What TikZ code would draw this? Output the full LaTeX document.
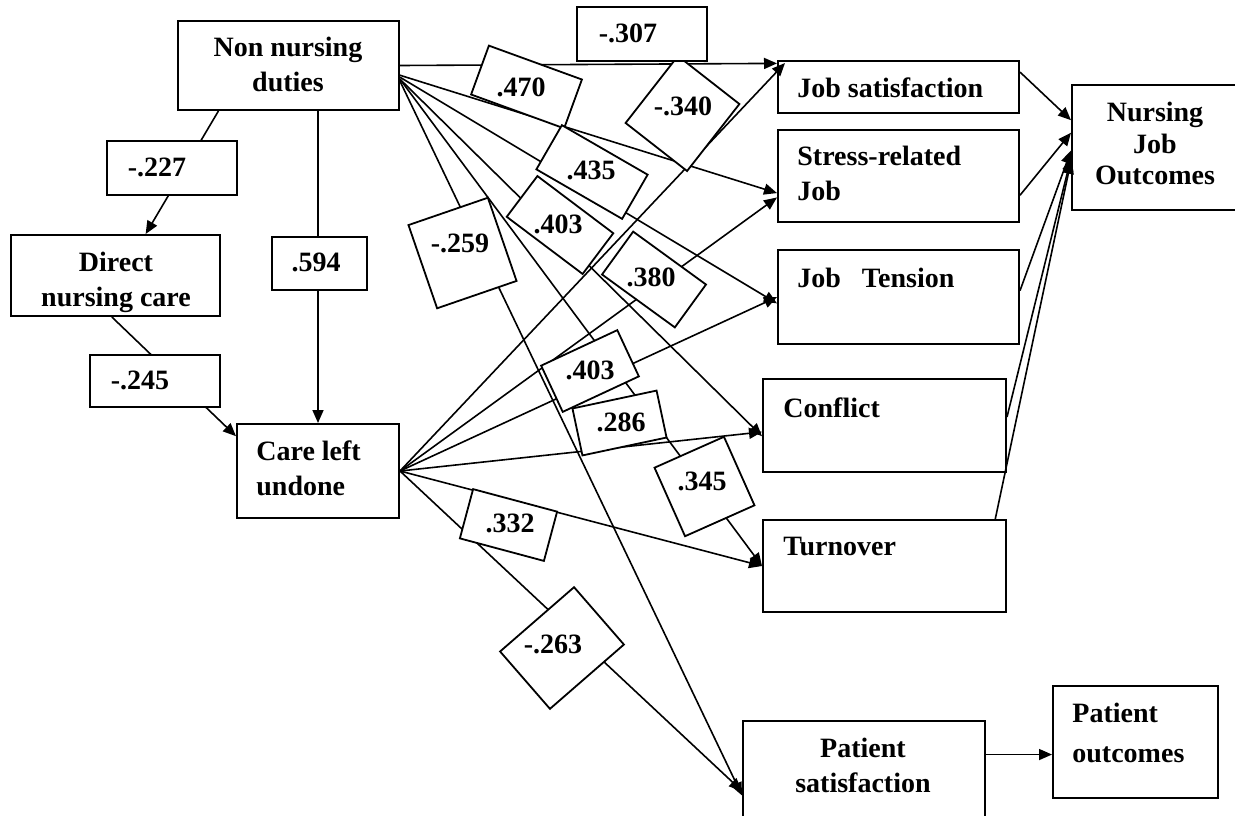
\documentclass[tikz,border=0pt]{standalone}
\usepackage{fontspec}
\setmainfont{Liberation Serif}
\usetikzlibrary{arrows.meta,fit}
\begin{document}
\begin{tikzpicture}[x=0.5pt,y=-0.5pt,
  box/.style={draw, line width=1pt, inner sep=0pt},
  txt/.style={font=\fontsize{14}{17.5}\selectfont\bfseries, inner sep=0pt},
  link/.style={line width=0.8pt},
  arr/.style={link, -{Triangle[length=6.5pt,width=5.5pt]}},
  lblbox/.style={draw, fill=white, line width=0.9pt, inner sep=0pt},
  sz/.style 2 args={minimum width=#1*0.5pt, minimum height=#2*0.5pt},
  num/.style={txt}
]
\path[fill=white, use as bounding box] (0,0) rectangle (1235,815);

% variable boxes
\node[box, fit={(178,21) (399,110)}] (nn) {};
\node[box, fit={(11,235) (220,316)}] (dnc) {};
\node[box, fit={(237,424) (399,518)}] (clu) {};
\node[box, fit={(778,61) (1019,113)}] (js) {};
\node[box, fit={(778,130) (1019,222)}] (srj) {};
\node[box, fit={(778,250) (1019,344)}] (jt) {};
\node[box, fit={(763,379) (1006,472)}] (cf) {};
\node[box, fit={(763,520) (1006,612)}] (tov) {};
\node[box, fit={(743,721) (985,818)}] (ps) {};
\node[box, fit={(1053,686) (1218,798)}] (po) {};
\node[box, fit={(1072,85) (1238,210)}] (njo) {};

% box texts
\node[txt, anchor=north, align=center] (nnt) at (288,37) {Non nursing\\duties};
\node[txt, anchor=north, align=center] (dnct) at (116,252) {Direct\\nursing care};
\node[txt, anchor=north west, align=left] (clut) at (256,440) {Care left\\undone};
\node[txt, anchor=north west] (jst) at (797,77) {Job satisfaction};
\node[txt, anchor=north west, align=left] (srjt) at (797,146) {Stress-related\\Job};
\node[txt, anchor=north west] (jtt) at (797,268) {Job\ \ \ Tension};
\node[txt, anchor=north west] (cft) at (783,397) {Conflict};
\node[txt, anchor=north west] (tovt) at (783,537) {Turnover};
\node[txt, anchor=north, align=center] (pst) at (863,738) {Patient\\satisfaction};
\node[txt, font=\fontsize{14}{20}\selectfont\bfseries, anchor=north west, align=left] (pot) at (1072,703) {Patient\\outcomes};
\node[txt, font=\fontsize{14}{15.75}\selectfont\bfseries, anchor=north, align=center] (njot) at (1155,102) {Nursing\\Job\\Outcomes};

% paths from non nursing duties
\draw[arr] (nn.east) -- (js.169);
\draw[arr] (nn.-5) -- (srj.188);
\draw[arr] (nn.-6) -- (jt.183);
\draw[arr] (nn.-7) -- (cf.185);
\draw[arr] (nn.-7) -- (tov.west);
\draw[arr] (nn.-8) -- (ps.192);
\draw[arr] (nn.213) -- (dnc.54);
\draw[arr] (clu.north |- nn.south) -- (clu.north);

% paths from care left undone
\draw[arr] (clu.east) -- ([shift={(8,3)}]js.north west);
\draw[arr] (clu.east) -- (srj.190);
\draw[arr] (clu.east) -- (jt.west);
\draw[arr] (clu.east) -- (cf.183);
\draw[arr] (clu.east) -- (tov.west);
\draw[arr] (clu.east) -- (ps.190);
\draw[arr] (dnc.265) -- (clu.157);

% outcome paths
\draw[arr] (js.7) -- (njo.162);
\draw[arr] (srj.-9) -- (njo.170);
\draw[arr] (jt.3) -- (njo.182);
\draw[arr] (cf.4) -- (njo.187);
\draw[arr] (tov.23) -- (njo.189);
\draw[arr] (ps.7) -- (ps.7 -| po.west);

% coefficient boxes
\node[lblbox, sz={78}{85}, rotate=-38] (b340) at (682.5,113.5) {};
\node[lblbox, sz={130}{54}] (b307) at (642,34) {};
\node[lblbox, sz={99}{52}, rotate=-20] (b470) at (526.5,87) {};
\node[lblbox, sz={99}{51}, rotate=-30] (b435) at (592,172) {};
\node[lblbox, sz={95}{51}, rotate=-37] (b403a) at (560,225) {};
\node[lblbox, sz={84}{88}, rotate=19] (b259) at (462.5,253) {};
\node[lblbox, sz={90}{53}, rotate=-36] (b380) at (654,279.5) {};
\node[lblbox, sz={84}{51}, rotate=25] (b403b) at (590,371) {};
\node[lblbox, sz={86}{48}, rotate=12] (b286) at (619.5,423) {};
\node[lblbox, sz={76}{75}, rotate=24] (b345) at (704.5,486.5) {};
\node[lblbox, sz={87}{51}, rotate=-15] (b332) at (508.5,525) {};
\node[lblbox, sz={98}{76}, rotate=41] (b263) at (562,648) {};
\node[lblbox, sz={130}{54}] (b227) at (172,168) {};
\node[lblbox, sz={95}{53}] (b594) at (319.5,263.5) {};
\node[lblbox, sz={130}{52}] (b245) at (155,381) {};

% coefficient values
\node[num] (t307) at (628,33) {-.307};
\node[num] (t470) at (521,87) {.470};
\node[num] (t340) at (683,106) {-.340};
\node[num] (t435) at (591,170) {.435};
\node[num] (t403a) at (558,224) {.403};
\node[num] (t259) at (460,243) {-.259};
\node[num] (t380) at (651,277) {.380};
\node[num] (t403b) at (590,370) {.403};
\node[num] (t286) at (621,422) {.286};
\node[num] (t345) at (702,481) {.345};
\node[num] (t332) at (510,523) {.332};
\node[num] (t263) at (553,644) {-.263};
\node[num] (t227) at (157,167) {-.227};
\node[num] (t594) at (316,262) {.594};
\node[num] (t245) at (140,380) {-.245};
\end{tikzpicture}
\end{document}
